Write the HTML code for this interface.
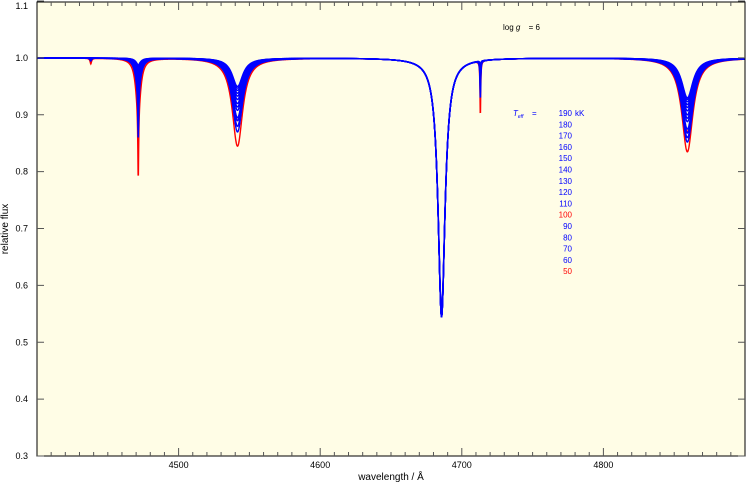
<!DOCTYPE html>
<html><head><meta charset="utf-8"><style>
body{margin:0;background:#fff;}
svg{display:block;font-family:"Liberation Sans",sans-serif;}
</style></head><body>
<svg id="chart" width="747" height="484">
<rect x="37" y="2" width="708" height="454" fill="#fffde6"/>
<g id="curves"></g>
<rect x="37" y="2" width="708" height="454" fill="none" stroke="#000" stroke-width="1"/>
<g id="axes"></g>
<text x="503" y="30" font-size="8">log <tspan font-style="italic">g</tspan>  <tspan dx="6">= 6</tspan></text>
<text x="513" y="116" font-size="8" fill="#00f" font-style="italic">T<tspan font-size="5" dy="2">eff</tspan></text>
<text x="532" y="116" font-size="8" fill="#00f">=</text>
<g id="legend"></g>
<text x="391" y="480" font-size="10" text-anchor="middle">wavelength / Å</text>
<text transform="translate(8,229) rotate(-90)" font-size="10" text-anchor="middle">relative flux</text>
</svg>
<script>
const teffs=[190,180,170,160,150,140,130,120,110,100,90,80,70,60,50];
const colors=["#00f","#00f","#00f","#00f","#00f","#00f","#00f","#00f","#00f","#f00","#00f","#00f","#00f","#00f","#f00"];
const lineCenters=[4438.0,4471.5,4471.5,4541.6,4685.7,4713.1,4859.3];
const lineWidths=[0.6,0.35,2.2,4.5,3.0,0.3,4.8];
const depth4438=[0,0,0,0,0,0,0,0,0,0.002,0.002,0.003,0.004,0.005,0.01];
const depth4471n=[0.005,0.008,0.012,0.016,0.02,0.025,0.03,0.035,0.04,0.05,0.06,0.07,0.08,0.09,0.13];
const depth4471b=[0.01,0.012,0.015,0.018,0.02,0.022,0.025,0.028,0.03,0.06,0.04,0.045,0.05,0.055,0.085];
const depth4541=[0.05,0.053,0.057,0.062,0.067,0.073,0.08,0.086,0.092,0.11,0.105,0.11,0.12,0.13,0.155];
const depth4686=[0.44,0.445,0.45,0.45,0.455,0.455,0.455,0.455,0.455,0.45,0.455,0.455,0.455,0.455,0.45];
const depth4713=[0.01,0.012,0.015,0.018,0.02,0.022,0.025,0.03,0.035,0.03,0.045,0.05,0.06,0.07,0.1];
const depth4859=[0.07,0.073,0.077,0.082,0.087,0.093,0.1,0.106,0.112,0.13,0.125,0.132,0.14,0.148,0.165];
const xTicks=[4500,4600,4700,4800];
const yTicks=[0.3,0.4,0.5,0.6,0.7,0.8,0.9,1.0,1.1];
const depthSets=[depth4438,depth4471n,depth4471b,depth4541,depth4686,depth4713,depth4859];
const X0=4400,X1=4900,px0=37,px1=745,Y0=0.3,Y1=1.1,py0=456,py1=1;
const xs=v=>px0+(v-X0)/(X1-X0)*(px1-px0);
const ys=v=>py0-(v-Y0)/(Y1-Y0)*(py0-py1);
const NS="http://www.w3.org/2000/svg";
const cg=document.getElementById('curves');
const order=teffs.map((t,i)=>i).sort((a,b)=>(colors[a]==="#f00"?0:1)-(colors[b]==="#f00"?0:1));
order.forEach(i=>{
  const t=teffs[i];
  let d="";
  for(let w=X0;w<=X1;w+=0.2){
    let f=1;
    for(let k=0;k<lineCenters.length;k++){
      const g=lineWidths[k];const dx=w-lineCenters[k];
      f-=depthSets[k][i]*g*g/(dx*dx+g*g);
    }
    d+=(d?"L":"M")+xs(w).toFixed(2)+","+ys(f).toFixed(2);
  }
  const p=document.createElementNS(NS,'path');
  p.setAttribute('d',d);p.setAttribute('fill','none');
  p.setAttribute('stroke',colors[i]);p.setAttribute('stroke-width','1.4');
  
  
  cg.appendChild(p);
});
const ax=document.getElementById('axes');
for(let w=4410;w<4900;w+=10){
  const major=w%100===0;const L=major?8:4;
  const l=document.createElementNS(NS,'path');
  l.setAttribute('d',`M${xs(w)},2v${L}M${xs(w)},456v-${L}`);
  l.setAttribute('stroke','#555');
  
  
  ax.appendChild(l);
}
xTicks.forEach(v=>{
  const t=document.createElementNS(NS,'text');
  t.setAttribute('x',xs(v));t.setAttribute('y',468);t.setAttribute('font-size','9');t.setAttribute('text-anchor','middle');
  t.textContent=v;
  
  
  ax.appendChild(t);
});
yTicks.forEach(v=>{
  const l=document.createElementNS(NS,'path');
  l.setAttribute('d',`M37,${ys(v)}h7M745,${ys(v)}h-7`);l.setAttribute('stroke','#555');
  
  
  ax.appendChild(l);
  const t=document.createElementNS(NS,'text');
  t.setAttribute('x',28);t.setAttribute('y',Math.max(ys(v)+3,9));t.setAttribute('font-size','9');t.setAttribute('text-anchor','end');
  t.textContent=v.toFixed(1);
  
  
  ax.appendChild(t);
});
const lg=document.getElementById('legend');
teffs.forEach((t,i)=>{
  const e=document.createElementNS(NS,'text');
  e.setAttribute('x',572);e.setAttribute('y',116+i*11.3);e.setAttribute('font-size','8');e.setAttribute('text-anchor','end');
  e.setAttribute('fill',colors[i]);
  e.textContent=t;
  
  
  lg.appendChild(e);
});
const kk=document.createElementNS(NS,'text');
kk.setAttribute('x',575);kk.setAttribute('y',116);kk.setAttribute('font-size','8');kk.setAttribute('fill','#00f');
kk.textContent='kK';


lg.appendChild(kk);
</script>
</body></html>
